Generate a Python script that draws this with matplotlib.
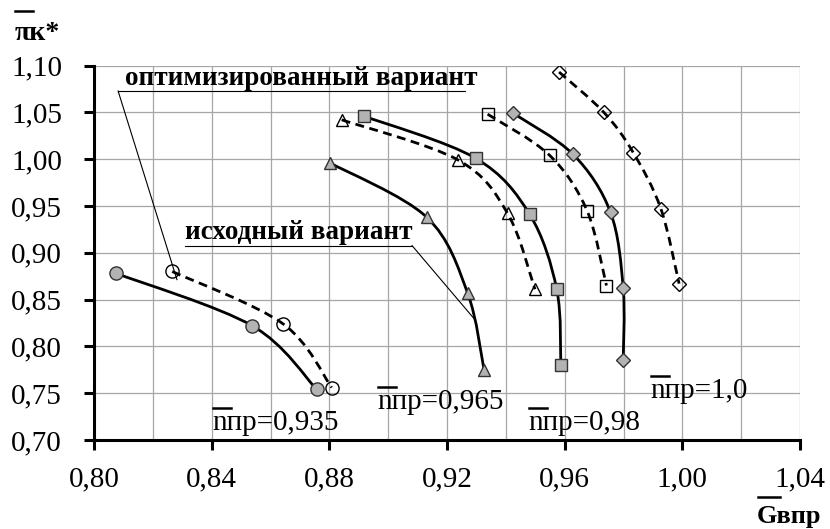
import matplotlib
matplotlib.use("Agg")
import matplotlib.pyplot as plt
import numpy as np
from matplotlib.path import Path
from matplotlib.patches import PathPatch
from matplotlib.lines import Line2D
from matplotlib.ticker import FuncFormatter, MultipleLocator

plt.rcParams['font.family'] = ['Liberation Serif', 'DejaVu Serif']

# reduced speed n = 0,935
n935_orig_x = [0.8075, 0.8538, 0.8757]
n935_orig_y = [0.878, 0.822, 0.754]
n935_opt_x = [0.8266, 0.8643, 0.8808]
n935_opt_y = [0.880, 0.824, 0.756]
# n = 0,965
n965_orig_x = [0.8802, 0.9131, 0.9270, 0.9326]
n965_orig_y = [0.996, 0.938, 0.857, 0.775]
n965_opt_x = [0.8842, 0.9238, 0.9406, 0.9499]
n965_opt_y = [1.042, 0.999, 0.942, 0.861]
# n = 0,98
n98_orig_x = [0.8917, 0.9297, 0.9481, 0.9573, 0.9587]
n98_orig_y = [1.046, 1.001, 0.941, 0.861, 0.780]
n98_opt_x = [0.9338, 0.9549, 0.9676, 0.9742]
n98_opt_y = [1.048, 1.004, 0.945, 0.865]
# n = 1,0
n100_orig_x = [0.9425, 0.9629, 0.9756, 0.9799, 0.9799]
n100_orig_y = [1.049, 1.005, 0.943, 0.862, 0.785]
n100_opt_x = [0.9581, 0.9733, 0.9833, 0.9927, 0.9989]
n100_opt_y = [1.093, 1.050, 1.007, 0.947, 0.867]

speed_labels = ["nпр=0,935", "nпр=0,965", "nпр=0,98", "nпр=1,0"]

W, H = 830, 529
GRAY = "#b3b3b3"


def fx(px):
    return px / W


def fy(py):
    return 1 - py / H


def smooth_path(xs, ys):
    # Excel-like smoothed line: Catmull-Rom segments as cubic Bezier curves
    pts = np.column_stack([xs, ys])
    ext = np.vstack([pts[0], pts, pts[-1]])
    verts = [pts[0]]
    codes = [Path.MOVETO]
    for i in range(1, len(ext) - 2):
        p0, p1, p2, p3 = ext[i - 1], ext[i], ext[i + 1], ext[i + 2]
        c1 = p1 + (p2 - p0) / 6
        c2 = p2 - (p3 - p1) / 6
        verts += [c1, c2, p2]
        codes += [Path.CURVE4] * 3
    return Path(verts, codes)


def plot_series(ax, xs, ys, marker, ms, filled):
    if filled:
        ls = "-"
        mfc, mec = GRAY, "#333333"
    else:
        ls = (0, (3.2, 2.0))
        mfc, mec = "none", "black"
    ax.add_patch(PathPatch(smooth_path(xs, ys), fill=False, edgecolor="black",
                           lw=2.0, linestyle=ls, zorder=3, capstyle="butt"))
    ax.plot(xs, ys, linestyle="none", marker=marker, markersize=ms,
            markerfacecolor=mfc, markeredgecolor=mec, markeredgewidth=1.0,
            zorder=4 if filled else 2.5)


def overline(fig, x0, x1, y):
    fig.add_artist(Line2D([fx(x0), fx(x1)], [fy(y), fy(y)], color="black",
                          lw=1.8, transform=fig.transFigure))


def main():
    fig = plt.figure(figsize=(8.3, 5.29), dpi=100)
    ax = fig.add_axes([fx(94), fy(440), fx(800) - fx(94), fy(65.5) - fy(440)])

    ax.set_xlim(0.80, 1.04)
    ax.set_ylim(0.70, 1.10)
    ax.xaxis.set_major_locator(MultipleLocator(0.04))
    ax.xaxis.set_minor_locator(MultipleLocator(0.02))
    ax.yaxis.set_major_locator(MultipleLocator(0.05))
    fmt = FuncFormatter(lambda v, p: ("%.2f" % v).replace(".", ","))
    ax.xaxis.set_major_formatter(fmt)
    ax.yaxis.set_major_formatter(fmt)
    ax.grid(True, which="both", axis="x", color="#a6a6a6", lw=0.9)
    ax.grid(True, which="major", axis="y", color="#a6a6a6", lw=0.9)
    ax.set_axisbelow(True)
    for s in ["top", "right"]:
        ax.spines[s].set_visible(False)
    for s in ["left", "bottom"]:
        ax.spines[s].set_linewidth(2.2)
    ax.tick_params(which="major", direction="out", length=7, width=2.2,
                   labelsize=21)
    ax.tick_params(axis="x", which="major", pad=12)
    ax.tick_params(axis="y", which="major", pad=16)
    ax.tick_params(which="minor", length=0)

    plot_series(ax, n935_orig_x, n935_orig_y, "o", 9.5, True)
    plot_series(ax, n935_opt_x, n935_opt_y, "o", 9.5, False)
    plot_series(ax, n965_orig_x, n965_orig_y, "^", 8.5, True)
    plot_series(ax, n965_opt_x, n965_opt_y, "^", 8.5, False)
    plot_series(ax, n98_orig_x, n98_orig_y, "s", 8, True)
    plot_series(ax, n98_opt_x, n98_opt_y, "s", 8, False)
    plot_series(ax, n100_orig_x, n100_orig_y, "D", 7, True)
    plot_series(ax, n100_opt_x, n100_opt_y, "D", 7, False)

    # callouts
    ax.text(0.8105, 1.079, "оптимизированный вариант", fontsize=19.5,
            fontweight="bold", ha="left", va="baseline", zorder=6)
    ax.plot([0.8082, 0.9261], [1.0727, 1.0727], color="black", lw=0.8, zorder=6)
    ax.plot([0.8082, 0.8282], [1.0727, 0.8713], color="black", lw=0.8, zorder=6)
    ax.text(0.8309, 0.9152, "исходный вариант", fontsize=19.5,
            fontweight="bold", ha="left", va="baseline", zorder=6)
    ax.plot([0.8309, 0.9081], [0.9077, 0.9077], color="black", lw=0.8, zorder=6)
    ax.plot([0.9081, 0.9295], [0.9077, 0.8285], color="black", lw=0.8, zorder=6)

    # speed labels with overlined n
    label_pos = [(212, 423), (377, 402), (528, 423), (650, 391)]
    for lab, (px, py) in zip(speed_labels, label_pos):
        fig.text(fx(px), fy(py), lab, fontsize=21, ha="left", va="center")
        overline(fig, px + 1, px + 19, py - 15)

    # axis titles
    fig.text(fx(15), fy(40), "πк*", fontsize=20, fontweight="bold",
             ha="left", va="baseline")
    overline(fig, 15, 33, 11)
    fig.text(fx(757), fy(516), "Gвпр", fontsize=19, fontweight="bold",
             ha="left", va="center")
    overline(fig, 758, 780, 497)

    fig.savefig("out.png", dpi=100)


if __name__ == '__main__':
    main()
